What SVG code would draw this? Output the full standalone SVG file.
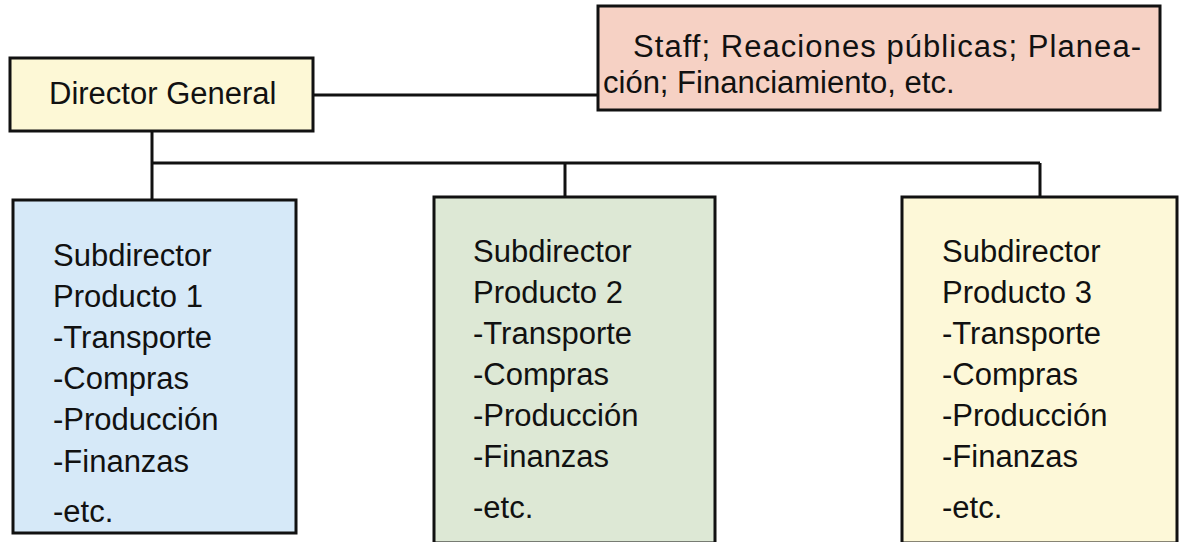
<svg xmlns="http://www.w3.org/2000/svg" width="1180" height="542" viewBox="0 0 1180 542">
<style>
.box{stroke:#111;stroke-width:3}
.t{font-family:"Liberation Sans",Arial,sans-serif;font-size:31px;fill:#111}
.ln{stroke:#111;stroke-width:3;fill:none}
</style>
<rect width="1180" height="542" fill="#fff"/>
<g id="connectors">
<line class="ln" x1="313" y1="95" x2="598" y2="95"/>
<line class="ln" x1="152" y1="131" x2="152" y2="200"/>
<line class="ln" x1="152" y1="163" x2="1040" y2="163"/>
<line class="ln" x1="565" y1="163" x2="565" y2="197"/>
<line class="ln" x1="1040" y1="163" x2="1040" y2="197"/>
</g>
<g id="director">
<rect class="box" x="10" y="58" width="303" height="73" fill="#fdf8d6"/>
<text class="t" x="49" y="104">Director General</text>
</g>
<g id="staff">
<rect class="box" x="598" y="6" width="562" height="104" fill="#f6d1c4"/>
<text class="t" x="633" y="57" textLength="508" lengthAdjust="spacing">Staff; Reaciones públicas; Planea-</text>
<text class="t" x="603" y="93">ción; Financiamiento, etc.</text>
</g>
<g id="sub1">
<rect class="box" x="13" y="200" width="283" height="333" fill="#d6e9f8"/>
<text class="t" x="53" y="266">Subdirector</text>
<text class="t" x="53" y="307">Producto 1</text>
<text class="t" x="53" y="348">-Transporte</text>
<text class="t" x="53" y="389">-Compras</text>
<text class="t" x="53" y="430">-Producción</text>
<text class="t" x="53" y="472">-Finanzas</text>
<text class="t" x="53" y="522">-etc.</text>
</g>
<g id="sub2">
<rect class="box" x="434" y="197" width="281" height="346" fill="#dde8d5"/>
<text class="t" x="473" y="262">Subdirector</text>
<text class="t" x="473" y="303">Producto 2</text>
<text class="t" x="473" y="344">-Transporte</text>
<text class="t" x="473" y="385">-Compras</text>
<text class="t" x="473" y="426">-Producción</text>
<text class="t" x="473" y="467">-Finanzas</text>
<text class="t" x="473" y="518">-etc.</text>
</g>
<g id="sub3">
<rect class="box" x="902" y="197" width="275" height="346" fill="#fdf8d8"/>
<text class="t" x="942" y="262">Subdirector</text>
<text class="t" x="942" y="303">Producto 3</text>
<text class="t" x="942" y="344">-Transporte</text>
<text class="t" x="942" y="385">-Compras</text>
<text class="t" x="942" y="426">-Producción</text>
<text class="t" x="942" y="467">-Finanzas</text>
<text class="t" x="942" y="518">-etc.</text>
</g>
</svg>
